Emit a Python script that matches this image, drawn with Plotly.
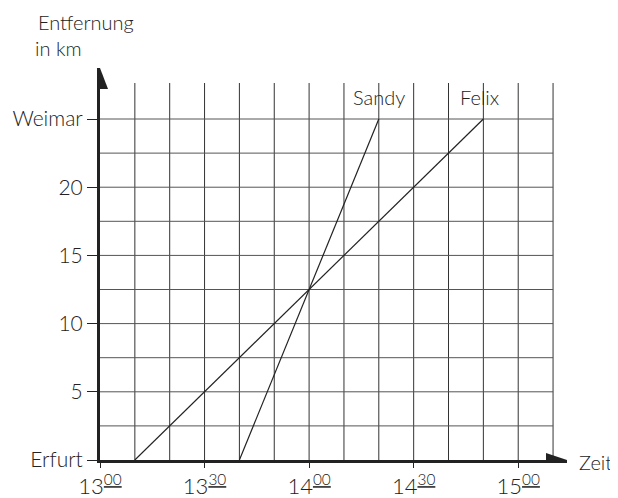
import plotly.graph_objects as go

# --- data (minutes after 13:00, distance in km) ---
felix_time = [10, 110]
felix_km = [0, 25]
sandy_time = [40, 80]
sandy_km = [0, 25]

x_tick_vals = [0, 30, 60, 90, 120]
x_tick_text = ["13<sup><u>00</u></sup>", "13<sup><u>30</u></sup>", "14<sup><u>00</u></sup>",
               "14<sup><u>30</u></sup>", "15<sup><u>00</u></sup>"]
y_tick_vals = [0, 5, 10, 15, 20, 25]
y_tick_text = ["Erfurt", "5", "10", "15", "20", "Weimar"]

grid_minutes = [10, 20, 30, 40, 50, 60, 70, 80, 90, 100, 110, 120, 130]
grid_km = [2.5, 5, 7.5, 10, 12.5, 15, 17.5, 20, 22.5, 25]

X_MAX = 134
Y_MAX = 28.74
GRID_TOP = 27.64
GRID_RIGHT = 130

FONT = "Lato"
INK = "#222222"

fig = go.Figure()

fig.add_trace(go.Scatter(x=sandy_time, y=sandy_km, mode="lines",
                         line=dict(color=INK, width=1.2), name="Sandy", cliponaxis=False))
fig.add_trace(go.Scatter(x=felix_time, y=felix_km, mode="lines",
                         line=dict(color=INK, width=1.2), name="Felix", cliponaxis=False))

shapes = []
for m in grid_minutes:
    shapes.append(dict(type="line", xref="x", yref="y", x0=m, x1=m, y0=0, y1=GRID_TOP,
                       line=dict(color="#333333", width=1), layer="below"))
for k in grid_km:
    shapes.append(dict(type="line", xref="x", yref="y", x0=0, x1=GRID_RIGHT, y0=k, y1=k,
                       line=dict(color="#555555", width=1), layer="below"))
# arrow heads
shapes.append(dict(type="path", xref="x", yref="y", xsizemode="pixel", ysizemode="pixel",
                   xanchor=0, yanchor=Y_MAX, path="M0,0 L-8,-21 L8,-21 Z",
                   fillcolor=INK, line=dict(color=INK, width=0)))
shapes.append(dict(type="path", xref="x", yref="y", xsizemode="pixel", ysizemode="pixel",
                   xanchor=X_MAX, yanchor=0, path="M0,0 L-21,7 L-21,-7 Z",
                   fillcolor=INK, line=dict(color=INK, width=0)))

lbl_font = dict(size=20, family=FONT, color=INK, weight=300)
annotations = [
    dict(x=sandy_time[-1], y=26.6, text="Sandy", showarrow=False, xref="x", yref="y",
         yanchor="middle", font=lbl_font),
    dict(x=felix_time[-1], y=26.6, text="Felix", xshift=-4, showarrow=False, xref="x", yref="y",
         yanchor="middle", font=lbl_font),
    dict(x=1.062, y=-0.005, text="Zeit", xanchor="center", yanchor="middle", showarrow=False,
         xref="paper", yref="paper", font=lbl_font),
    dict(x=-0.030, y=1.117, text="Entfernung", xanchor="center", yanchor="middle",
         showarrow=False, xref="paper", yref="paper", font=lbl_font),
    dict(x=-0.088, y=1.051, text="in km", xanchor="center", yanchor="middle",
         showarrow=False, xref="paper", yref="paper", font=lbl_font),
]

# page body has an 8px margin, so the figure sits 8px right and down in the window
fig.update_layout(
    width=610, height=490,
    margin=dict(l=92, r=51, t=60, b=38),
    paper_bgcolor="white", plot_bgcolor="white",
    showlegend=False,
    shapes=shapes, annotations=annotations,
    font=dict(family=FONT, color=INK, size=20),
    xaxis=dict(range=[0, X_MAX], showgrid=False, zeroline=False, automargin=False,
               showline=True, linewidth=3, linecolor=INK,
               tickvals=x_tick_vals, ticktext=x_tick_text,
               ticks="outside", ticklen=5, tickwidth=1, tickcolor=INK,
               tickfont=dict(size=22, family=FONT, color=INK, weight=300)),
    yaxis=dict(range=[0, Y_MAX], showgrid=False, zeroline=False, automargin=False,
               showline=True, linewidth=3, linecolor=INK,
               tickvals=y_tick_vals, ticktext=y_tick_text,
               ticks="outside", ticklen=10, tickwidth=1, tickcolor=INK,
               tickfont=dict(size=21, family=FONT, color=INK, weight=300)),
)

fig.write_html("out.html")
